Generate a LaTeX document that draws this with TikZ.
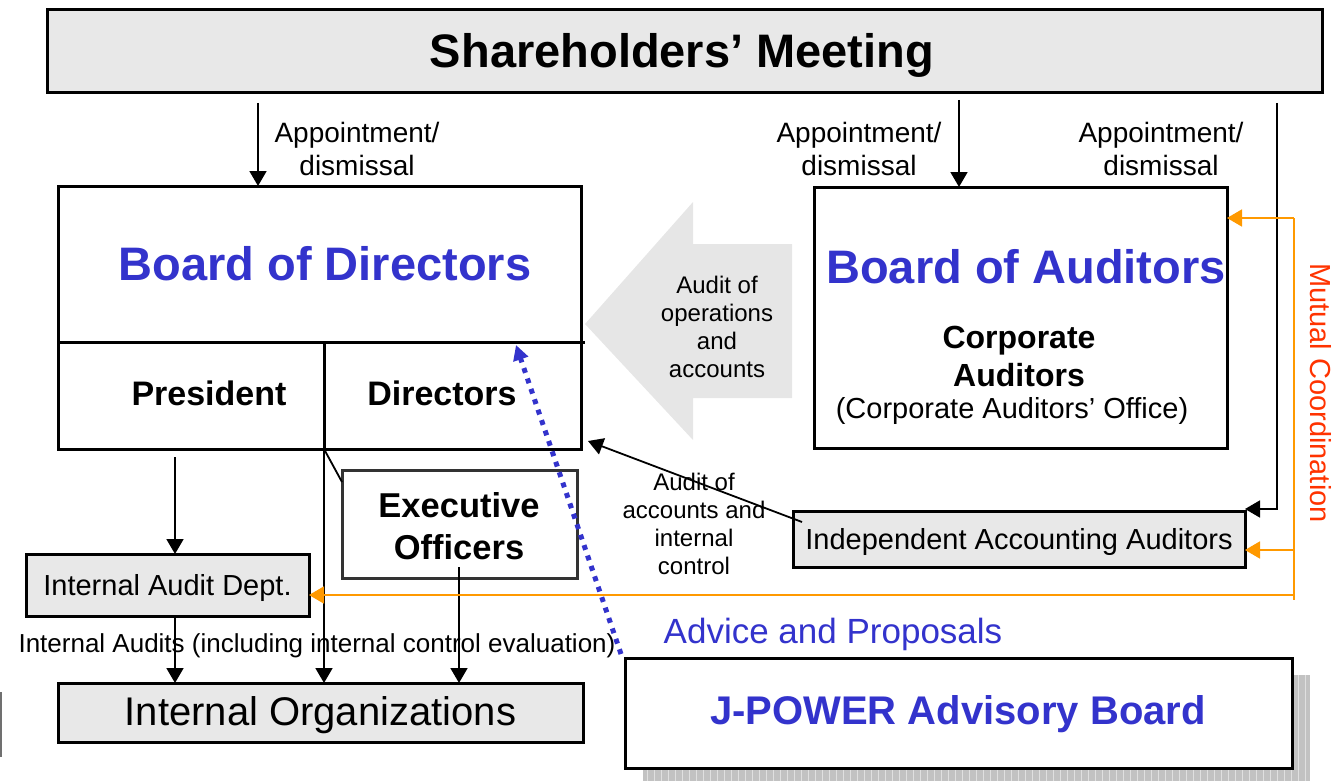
\documentclass[tikz,border=0pt]{standalone}
\usepackage{fontspec}
\setmainfont{Liberation Sans}
\usetikzlibrary{arrows.meta,calc}

\definecolor{boxgray}{HTML}{E8E8E8}
\definecolor{titleblue}{HTML}{3333CC}
\definecolor{coordorange}{HTML}{FF9900}
\definecolor{coordred}{HTML}{FF3300}
\definecolor{bigarrowgray}{HTML}{E6E6E6}
\definecolor{shadowgray}{HTML}{C2C2C2}
\definecolor{shadowline}{HTML}{E0E0E0}
\definecolor{darkframe}{HTML}{333333}

\newcommand\pxfont[2]{\fontsize{#1pt}{#2pt}\selectfont}

\tikzset{
  box/.style={draw=black, line width=3pt, inner sep=0pt, outer sep=0pt, anchor=north west},
  graybox/.style={box, fill=boxgray},
  whitebox/.style={box, fill=white},
  lbl/.style={inner sep=0pt, outer sep=0pt, align=center},
  tip/.style={-{Triangle[length=15pt,width=17pt]}},
  conn/.style={draw=black, line width=1.8pt, tip},
  plain/.style={draw=black, line width=1.8pt},
  orangeconn/.style={draw=coordorange, line width=1.8pt, tip},
  advice/.style={draw=titleblue, line width=5pt, dash pattern=on 5pt off 6pt,
    -{Triangle[length=15pt,width=15pt,fill=titleblue]}},
}

\begin{document}
\begin{tikzpicture}[x=1pt,y=-1pt]
\useasboundingbox (0,0) rectangle (1338,781);

% ---------- top box ----------
\node[graybox, minimum width=1275pt, minimum height=83pt] (sm) at (47,10) {};
\node[lbl, font=\pxfont{47}{50}\bfseries] (smt) at (682,55) {Shareholders’ Meeting};

% ---------- Board of Directors ----------
\node[whitebox, minimum width=523pt, minimum height=263pt] (bod) at (58,186) {};
\coordinate (bodl) at (58,342);
\coordinate (bodr) at (585,342);
\coordinate (bodm) at (324,342);
\coordinate (bodmb) at (324,449);
\draw[plain, line width=3pt] (bodl) -- (bodr);
\draw[plain, line width=3pt] (bodm) -- (bodmb);
\node[lbl, font=\pxfont{47}{50}\bfseries, text=titleblue] (bodt) at (325,264) {Board of Directors};
\node[lbl, font=\pxfont{34}{40}\bfseries] (pres) at (209,393) {President};
\node[lbl, font=\pxfont{34}{40}\bfseries] (dirs) at (442,393) {Directors};

% ---------- big audit arrow ----------
\fill[bigarrowgray] (585,324) -- (693,202) -- (693,244) -- (792,244) -- (792,398)
  -- (693,398) -- (693,440) -- cycle;
\node[lbl, font=\pxfont{24}{28}] (opsaudit) at (717,327) {Audit of\\operations\\and\\accounts};

% ---------- Board of Auditors ----------
\node[whitebox, minimum width=413pt, minimum height=261pt] (boa) at (814,187) {};
\node[lbl, font=\pxfont{47}{50}\bfseries, text=titleblue] (boat) at (1026,267) {Board of Auditors};
\node[lbl, font=\pxfont{32}{38}\bfseries] (corpaud) at (1019,356) {Corporate\\Auditors};
\node[lbl, font=\pxfont{29}{34}] (office) at (1012,411) {(Corporate Auditors’ Office)};

% ---------- appointment arrows ----------
\coordinate (ap1) at (258,103);
\coordinate (ap2) at (959,100);
\coordinate (ap3) at (1277,103);
\coordinate (ap3c) at (1277,509);
\draw[conn] (ap1) -- (ap1 |- bod.north);
\draw[conn] (ap2) -- (ap2 |- boa.north);
\node[lbl, font=\pxfont{28}{33}] (apl1) at (357,149) {Appointment/\\dismissal};
\node[lbl, font=\pxfont{28}{33}] (apl2) at (859,149) {Appointment/\\dismissal};
\node[lbl, font=\pxfont{28}{33}] (apl3) at (1161,149) {Appointment/\\dismissal};

% ---------- Executive Officers ----------
\node[box, draw=darkframe, fill=white, minimum width=235pt, minimum height=108pt] (exec) at (342,470) {};
\node[lbl, font=\pxfont{34.5}{42}\bfseries] (exect) at (459,526) {Executive\\Officers};
\coordinate (execl) at (342,482);
\draw[plain] (bodmb) -- (execl);

% ---------- Internal Audit Dept. ----------
\node[graybox, minimum width=283pt, minimum height=62pt] (iad) at (26,554) {};
\node[lbl, font=\pxfont{29}{34}] (iadt) at ($(iad.center)+(0,3)$) {Internal Audit Dept.};

% ---------- Internal Organizations ----------
\node[graybox, minimum width=525pt, minimum height=59pt] (io) at (58,683) {};
\node[lbl, font=\pxfont{40}{46}] (iot) at ($(io.center)+(0,3)$) {Internal Organizations};

% ---------- Independent Accounting Auditors ----------
\node[graybox, minimum width=452pt, minimum height=56pt] (iaa) at (793,511) {};
\node[lbl, font=\pxfont{29}{34}] (iaat) at ($(iaa.center)+(0,3)$) {Independent Accounting Auditors};

% ---------- J-POWER Advisory Board ----------
\fill[shadowgray] (643,675) rectangle (1310,781);
\foreach \xx in {647,654,...,1308}
  \draw[shadowline, line width=0.6pt] (\xx,675) -- (\xx,781);
\node[whitebox, minimum width=667pt, minimum height=110pt] (adv) at (625,658) {};
\node[lbl, font=\pxfont{40}{46}\bfseries, text=titleblue] (advt) at (958,714) {J-POWER Advisory Board};

% ---------- internal connectors ----------
\coordinate (presb) at (175,457);
\draw[conn] (presb) -- (presb |- iad.north);
\draw[conn] (iad.south -| presb) -- (presb |- io.north);
\draw[conn] (bodmb) -- (bodmb |- io.north);
\coordinate (execb) at (459,567);
\draw[conn] (execb) -- (execb |- io.north);
\node[lbl, font=\pxfont{26}{30}] (iatext) at (317,646) {Internal Audits (including internal control evaluation)};

% ---------- accounting audit ----------
\coordinate (iaafrom) at (802,522);
\coordinate (bodcorner) at (588,441);
\draw[conn] (iaafrom) -- (bodcorner);
\node[lbl, font=\pxfont{24}{28}] (acctaudit) at (694,524) {Audit of\\accounts and\\internal\\control};
\draw[conn] (ap3) -- (ap3c) -- (ap3c -| iaa.east);

% ---------- mutual coordination ----------
\coordinate (mctop) at (1294,218);
\coordinate (mcmid) at (1294,550);
\coordinate (mclow) at (1294,595);
\coordinate (mcend) at (1294,600);
\draw[draw=coordorange, line width=1.8pt] (mctop) -- (mcend);
\draw[orangeconn] (mctop) -- (mctop -| boa.east);
\draw[orangeconn] (mcmid) -- (mcmid -| iaa.east);
\draw[orangeconn] (mclow) -- (mclow -| iad.east);
\node[lbl, font=\pxfont{29}{34}, text=coordred, rotate=-90] (mct) at (1321,393) {Mutual Coordination};

% ---------- advice ----------
\coordinate (advfrom) at (621,654);
\coordinate (advto) at (516,345);
\draw[advice] (advfrom) -- (advto);
\node[lbl, font=\pxfont{35}{40}, text=titleblue] (advicet) at (833,634) {Advice and Proposals};

% ---------- edge mark ----------
\coordinate (edgetop) at (1,692);
\coordinate (edgebot) at (1,757);
\draw[draw=darkframe!70, line width=1.5pt] (edgetop) -- (edgebot);
\end{tikzpicture}
\end{document}
